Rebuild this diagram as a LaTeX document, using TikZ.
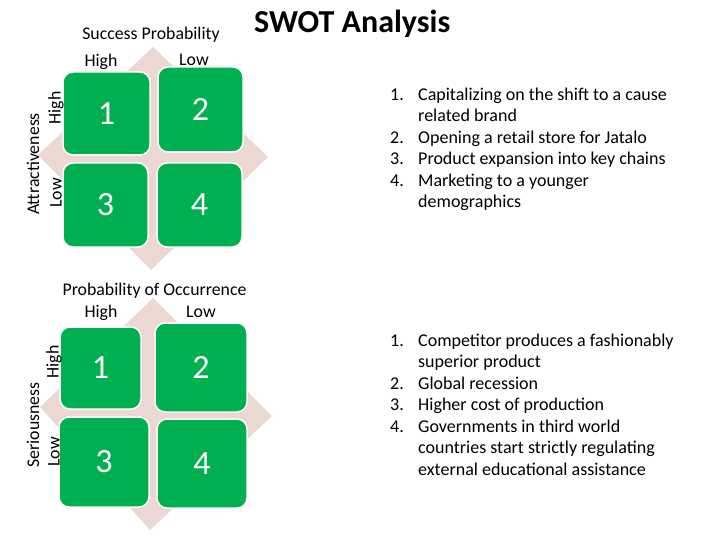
\documentclass[tikz,border=0pt]{standalone}
\usepackage{fontspec}
\setmainfont{Carlito}
\usepackage{array}
\definecolor{boxgreen}{RGB}{0,176,80}
\definecolor{diamondpink}{RGB}{236,216,210}
\begin{document}
\begin{tikzpicture}[x=1pt,y=-1pt,
  quad/.style={fill=boxgreen,draw=white,line width=1.5pt,rounded corners=10pt,
    text=white,font=\fontsize{34}{34}\selectfont,inner sep=0pt},
  lbl/.style={font=\fontsize{17.8}{19}\selectfont,inner sep=0pt},
  vlbl/.style={lbl,rotate=90},
  listtxt/.style={font=\fontsize{18}{21.5}\selectfont,inner sep=0pt,anchor=west,align=left}]
\useasboundingbox (0,0) rectangle (720,540);
% ---- top matrix ----
\fill[diamondpink] (153,47) -- (268,157) -- (151,270) -- (38,155) -- cycle;
\node[quad,minimum width=87pt,minimum height=83pt] (t1) at (106.5,113.5) {1};
\node[quad,minimum width=85pt,minimum height=85pt] (t2) at (200.5,109.5) {2};
\node[quad,minimum width=85pt,minimum height=84pt] (t3) at (105.5,205) {3};
\node[quad,minimum width=85pt,minimum height=84pt] (t4) at (199.5,205) {4};
\node[lbl] (tsp) at (151,35) {Success Probability};
\node[lbl] (th) at (101,62) {High};
\node[lbl] (tl) at (194,60) {Low};
\node[vlbl] (tat) at (33,164) {Attractiveness};
\node[vlbl] (tvh) at (56,108) {High};
\node[vlbl] (tvl) at (56,193) {Low};
% ---- title ----
\node[font=\fontsize{32}{34}\selectfont\bfseries,inner sep=0pt,anchor=west] (title) at (254,24) {SWOT Analysis};
% ---- top list ----
\node[listtxt] (olist) at (390,149.5) {\begin{tabular}{@{}p{28pt}@{}l@{}}
1. & Capitalizing on the shift to a cause\\
   & related brand\\
2. & Opening a retail store for Jatalo\\
3. & Product expansion into key chains\\
4. & Marketing to a younger\\
   & demographics
\end{tabular}};
% ---- bottom matrix ----
\fill[diamondpink] (153,298) -- (272,416) -- (150,530) -- (40,407) -- cycle;
\node[quad,minimum width=81pt,minimum height=82pt] (b1) at (100.5,368) {1};
\node[quad,minimum width=92pt,minimum height=89pt] (b2) at (201,367.5) {2};
\node[quad,minimum width=90pt,minimum height=90pt] (b3) at (104,462) {3};
\node[quad,minimum width=90pt,minimum height=89pt] (b4) at (202,463.5) {4};
\node[lbl] (bpo) at (154.5,291) {Probability of Occurrence};
\node[lbl] (bh) at (101,313) {High};
\node[lbl] (bl) at (201,312) {Low};
\node[vlbl] (bse) at (33,425) {Seriousness};
\node[vlbl] (bvh) at (54,362) {High};
\node[vlbl] (bvl) at (54,452) {Low};
% ---- bottom list ----
\node[listtxt] (tlist) at (390,406.5) {\begin{tabular}{@{}p{28pt}@{}l@{}}
1. & Competitor produces a fashionably\\
   & superior product\\
2. & Global recession\\
3. & Higher cost of production\\
4. & Governments in third world\\
   & countries start strictly regulating\\
   & external educational assistance
\end{tabular}};
\end{tikzpicture}
\end{document}
